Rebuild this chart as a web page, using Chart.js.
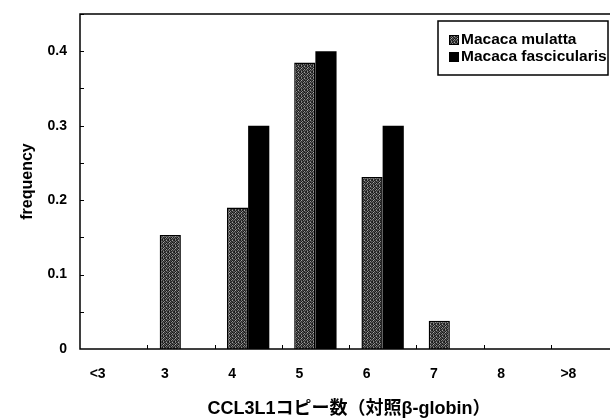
<!DOCTYPE html>
<html>
<head>
<meta charset="utf-8">
<script src="https://cdn.jsdelivr.net/npm/chart.js@4/dist/chart.umd.min.js"></script>
<style>
  html, body { margin: 0; padding: 0; background: #fff; overflow: hidden; }
  #wrap { width: 620px; height: 420px; }
</style>
</head>
<body>
<div id="wrap"><canvas id="grafico" width="620" height="420"></canvas></div>
<script>
// Dados do gráfico
const categorias = ['<3', '3', '4', '5', '6', '7', '8', '>8'];
const nomesSeries = ['Macaca mulatta', 'Macaca fascicularis'];
const mulatta = [0, 0.153, 0.19, 0.385, 0.231, 0.038, 0, 0];
const fascicularis = [0, 0, 0.3, 0.4, 0.3, 0, 0, 0];
const tituloX = 'CCL3L1コピー数（対照β-globin）';
const tituloY = 'frequency';

const fonte = '"Liberation Sans", Arial, "Noto Sans CJK JP", sans-serif';

// Padrão pontilhado cinza escuro (imitando a textura da imagem escaneada)
function criarPadrao() {
  const tons = [
    30, 110, 25, 65, 160, 40,
    85, 25, 140, 35, 55, 95,
    25, 170, 45, 85, 25, 60,
    120, 40, 75, 25, 150, 35,
    55, 80, 25, 130, 40, 105,
    25, 140, 60, 35, 85, 45
  ];
  const c = document.createElement('canvas');
  c.width = 6; c.height = 6;
  const g = c.getContext('2d');
  for (let i = 0; i < tons.length; i++) {
    const v = tons[i];
    g.fillStyle = `rgb(${v},${v},${v})`;
    g.fillRect(i % 6, Math.floor(i / 6), 1, 1);
  }
  return g.createPattern(c, 'repeat');
}

const padrao = criarPadrao();

// Plugin: moldura, marcas de escala internas e legenda com caixa
const molduraPlugin = {
  id: 'moldura',
  afterDraw(chart) {
    const ctx = chart.ctx;
    const a = chart.chartArea;
    const y = chart.scales.y;
    const x = chart.scales.x;
    ctx.save();
    ctx.strokeStyle = '#000';
    ctx.lineWidth = 1.5;
    ctx.strokeRect(a.left, a.top, a.right - a.left, a.bottom - a.top);

    // marcas do eixo y (para dentro)
    ctx.lineWidth = 1;
    for (let v = 0.05; v < 0.451; v += 0.05) {
      const py = Math.round(y.getPixelForValue(v)) + 0.5;
      ctx.beginPath();
      ctx.moveTo(a.left, py);
      ctx.lineTo(a.left + 4, py);
      ctx.stroke();
    }
    // marcas do eixo x entre categorias
    const larg = (a.right - a.left) / categorias.length;
    for (let i = 1; i < categorias.length; i++) {
      const px = Math.round(x.getPixelForValue(i) - larg / 2) + 0.5;
      ctx.beginPath();
      ctx.moveTo(px, a.bottom);
      ctx.lineTo(px, a.bottom - 4);
      ctx.stroke();
    }

    // legenda
    const bx = a.right - 10, by = a.top + 7;
    const w = 170, h = 54;
    ctx.fillStyle = '#fff';
    ctx.fillRect(bx - w, by, w, h);
    ctx.lineWidth = 1.5;
    ctx.strokeRect(bx - w, by, w, h);
    ctx.font = 'bold 15.5px ' + fonte;
    ctx.textBaseline = 'middle';
    ctx.textAlign = 'left';
    const cores = [padrao, '#000'];
    for (let i = 0; i < nomesSeries.length; i++) {
      const ly = by + 19 + i * 17;
      ctx.fillStyle = cores[i];
      ctx.fillRect(bx - w + 11, ly - 5, 10, 10);
      ctx.strokeStyle = '#000';
      ctx.lineWidth = 1;
      ctx.strokeRect(bx - w + 11.5, ly - 4.5, 9, 9);
      ctx.fillStyle = '#000';
      ctx.fillText(nomesSeries[i], bx - w + 23, ly);
    }
    ctx.restore();
  }
};

// Remove o espaço extra que o Chart.js reserva para meio rótulo
function semPadding(scale) {
  scale.paddingTop = 0;
  scale.paddingBottom = 0;
  scale.paddingLeft = 0;
  scale.paddingRight = 0;
}

new Chart(document.getElementById('grafico'), {
  type: 'bar',
  data: {
    labels: categorias,
    datasets: [
      {
        label: nomesSeries[0],
        data: mulatta,
        backgroundColor: padrao,
        borderColor: '#000',
        borderWidth: 1.5,
        borderSkipped: 'bottom',
        categoryPercentage: 0.63,
        barPercentage: 1
      },
      {
        label: nomesSeries[1],
        data: fascicularis,
        backgroundColor: '#000',
        borderWidth: 0,
        categoryPercentage: 0.63,
        barPercentage: 1
      }
    ]
  },
  options: {
    responsive: false,
    animation: false,
    layout: { padding: { left: 0, top: 14, right: 2, bottom: 0 } },
    plugins: {
      legend: { display: false },
      tooltip: { enabled: false }
    },
    scales: {
      x: {
        grid: { display: false, drawTicks: false },
        border: { display: false },
        ticks: {
          color: '#000',
          font: { family: fonte, size: 14, weight: 'bold' },
          padding: 17,
          labelOffset: -16,
          maxRotation: 0
        },
        title: {
          display: true,
          text: tituloX,
          color: '#000',
          font: { family: fonte, size: 18, weight: 'bold' },
          padding: { top: 0, bottom: 0 }
        },
        afterFit(scale) { scale.height = 71; semPadding(scale); }
      },
      y: {
        min: 0,
        max: 0.45,
        grid: { display: false, drawTicks: false },
        border: { display: false },
        ticks: {
          stepSize: 0.05,
          color: '#000',
          font: { family: fonte, size: 14, weight: 'bold' },
          padding: 13,
          callback: function (v) {
            const r = Math.round(v * 100);
            if (r % 10 !== 0) return '';
            return r === 0 ? '0' : (r / 100).toString();
          }
        },
        title: {
          display: true,
          text: tituloY,
          color: '#000',
          font: { family: fonte, size: 16, weight: 'bold' },
          padding: { top: 18, bottom: 0 }
        },
        afterFit(scale) { scale.width = 80; semPadding(scale); }
      }
    }
  },
  plugins: [molduraPlugin]
});
</script>
</body>
</html>
